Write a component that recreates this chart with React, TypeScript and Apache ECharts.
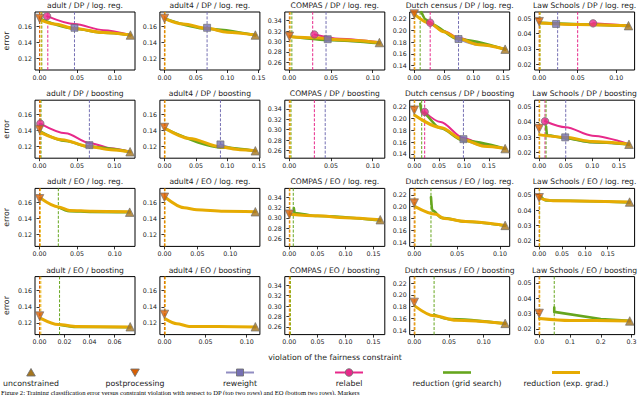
import React, { useEffect, useRef } from "react";
import * as echarts from "echarts";

// ---------------- data ----------------
const datasets = ["adult", "adult4", "COMPAS", "Dutch census", "Law Schools"];
const rowNames = ["DP / log. reg.", "DP / boosting", "EO / log. reg.", "EO / boosting"];

// largest violation in each panel (the unconstrained model), panel order row by row
const xMax = [
  0.121, 0.145, 0.109, 0.154, 0.118,
  0.1215, 0.1445, 0.109, 0.183, 0.171,
  0.121, 0.138, 0.162, 0.106, 0.199,
  0.0727, 0.1106, 0.162, 0.131, 0.295,
];

const xTicks = [
  [0, 0.05, 0.1], [0, 0.05, 0.1, 0.15], [0, 0.05, 0.1], [0, 0.05, 0.1, 0.15], [0, 0.05, 0.1],
  [0, 0.05, 0.1], [0, 0.05, 0.1, 0.15], [0, 0.05, 0.1], [0, 0.05, 0.1, 0.15], [0, 0.05, 0.1, 0.15],
  [0, 0.05, 0.1], [0, 0.05, 0.1], [0, 0.05, 0.1, 0.15], [0, 0.05, 0.1], [0, 0.05, 0.1, 0.15],
  [0, 0.02, 0.04, 0.06], [0, 0.05, 0.1], [0, 0.05, 0.1, 0.15], [0, 0.05, 0.1], [0, 0.1, 0.2, 0.3],
];
const xDecimals = [2, 2, 2, 2, 2, 2, 2, 2, 2, 2, 2, 2, 2, 2, 2, 2, 2, 2, 2, 1];

const yTicksByCol = [
  [0.12, 0.14, 0.16],
  [0.12, 0.14, 0.16],
  [0.26, 0.28, 0.3, 0.32, 0.34],
  [0.14, 0.16, 0.18, 0.2, 0.22],
  [0.02, 0.03, 0.04, 0.05],
];
const yRangeByCol = [
  [0.1055, 0.1775],
  [0.1055, 0.1775],
  [0.2452, 0.3567],
  [0.1327, 0.231],
  [0.0163, 0.0541],
];

type Pt = [number, number];
const unconstrained: (Pt | null)[] = [
  [0.121, 0.1489], [0.145, 0.1489], [0.108, 0.298], [0.154, 0.168], [0.116, 0.0452],
  [0.121, 0.1135], [0.1445, 0.1147], null, [0.183, 0.149], [0.169, 0.0254],
  [0.12, 0.148], [0.138, 0.1485], [0.162, 0.2965], [0.106, 0.1683], [0.198, 0.0452],
  [0.0725, 0.1152], [0.1106, 0.1152], null, [0.131, 0.1517], [0.294, 0.0252],
];
const postprocessing: (Pt | null)[] = [
  [0, 0.1695], [0, 0.1695], [0, 0.31], [0, 0.2276], [0, 0.0478],
  [0, 0.1411], [0, 0.1436], null, [0, 0.2141], [0, 0.0356],
  [0, 0.1646], [0, 0.1665], [0, 0.3071], [0, 0.2061], [0, 0.048],
  [0, 0.1285], [0, 0.1306], null, [0, 0.1873], [0, 0.0301],
];
const reweight: (Pt[] | null)[] = [
  [[0.0465, 0.1579], [0.085, 0.1525], [0.121, 0.1489]],
  [[0.068, 0.1579], [0.1, 0.1527], [0.145, 0.1489]],
  [[0.046, 0.3044], [0.08, 0.3005], [0.108, 0.298]],
  [[0.075, 0.1852], [0.11, 0.175], [0.154, 0.168]],
  [[0.022, 0.0463], [0.07, 0.0458], [0.116, 0.0452]],
  [[0.0666, 0.1217], [0.09, 0.1168], [0.121, 0.1135]],
  [[0.089, 0.1226], [0.115, 0.1172], [0.1445, 0.1147]],
  null,
  [[0.099, 0.165], [0.14, 0.1535], [0.183, 0.149]],
  [[0.049, 0.0299], [0.1, 0.0266], [0.169, 0.0254]],
  null, null, null, null, null,
  null, null, null, null, null,
];
const relabel: (Pt[] | null)[] = [
  [[0.01, 0.1723], [0.0465, 0.1625], [0.085, 0.155], [0.121, 0.1489]],
  null,
  [[0.03, 0.3135], [0.06, 0.3055], [0.108, 0.2985]],
  [[0.027, 0.2129], [0.05, 0.199], [0.075, 0.1875], [0.11, 0.1765], [0.154, 0.168]],
  [[0.07, 0.0467], [0.116, 0.0453]],
  [[0.001, 0.1485], [0.035, 0.1365], [0.0666, 0.1245], [0.095, 0.118], [0.121, 0.1135]],
  null,
  null,
  [[0.021, 0.2112], [0.053, 0.194], [0.099, 0.167], [0.14, 0.155], [0.183, 0.149]],
  [[0.011, 0.0404], [0.05, 0.0365], [0.1, 0.031], [0.169, 0.0254]],
  null, null, null, null, null,
  null, null, null, null, null,
];
const gridSearch: (Pt[] | null)[] = [
  [[0.003, 0.1683], [0.0465, 0.1567], [0.085, 0.1517], [0.121, 0.1488]],
  [[0.002, 0.1688], [0.068, 0.1568], [0.145, 0.1488]],
  [[0.003, 0.309], [0.05, 0.3025], [0.108, 0.2965]],
  [[0.012, 0.231], [0.02, 0.218], [0.027, 0.2112], [0.075, 0.1848], [0.154, 0.1675]],
  [[0.001, 0.047], [0.116, 0.045]],
  [[0.002, 0.1383], [0.035, 0.1268], [0.0666, 0.1195], [0.121, 0.1133]],
  [[0.001, 0.1422], [0.089, 0.119], [0.1445, 0.1145]],
  null,
  [[0.012, 0.225], [0.015, 0.2105], [0.053, 0.1835], [0.099, 0.1625], [0.183, 0.1488]],
  [[0.013, 0.037], [0.015, 0.0312], [0.049, 0.0294], [0.1, 0.0267], [0.169, 0.0253]],
  [[0.025, 0.1543], [0.04, 0.1493], [0.07, 0.1483], [0.12, 0.1478]],
  null,
  [[0.008, 0.3187], [0.0095, 0.3095], [0.05, 0.3035], [0.162, 0.295]],
  [[0.0195, 0.2163], [0.021, 0.1937], [0.032, 0.181], [0.06, 0.1745], [0.106, 0.1678]],
  [[0.003, 0.049], [0.015, 0.0462], [0.198, 0.045]],
  [[0.016, 0.1178], [0.03, 0.115], [0.0725, 0.1147]],
  null,
  null,
  [[0.0286, 0.1665], [0.05, 0.159], [0.131, 0.1515]],
  [[0.049, 0.034], [0.049, 0.0311], [0.2, 0.0265], [0.294, 0.0253]],
];
const expGrad: (Pt[] | null)[] = [
  [[0.002, 0.1674], [0.02, 0.1625], [0.0465, 0.157], [0.085, 0.152], [0.121, 0.1489]],
  [[0.001, 0.169], [0.03, 0.1625], [0.068, 0.1572], [0.1, 0.1525], [0.145, 0.1489]],
  [[0.001, 0.309], [0.03, 0.307], [0.06, 0.3035], [0.108, 0.298]],
  [[0.001, 0.2265], [0.027, 0.2115], [0.05, 0.1975], [0.075, 0.1855], [0.11, 0.1755], [0.154, 0.168]],
  [[0.001, 0.047], [0.05, 0.046], [0.116, 0.0452]],
  [[0.001, 0.1375], [0.03, 0.1285], [0.0666, 0.12], [0.095, 0.116], [0.121, 0.1135]],
  [[0.001, 0.1425], [0.04, 0.13], [0.089, 0.1195], [0.12, 0.116], [0.1445, 0.1147]],
  null,
  [[0.001, 0.2056], [0.053, 0.1847], [0.099, 0.164], [0.14, 0.153], [0.183, 0.149]],
  [[0.001, 0.0315], [0.049, 0.0299], [0.1, 0.0272], [0.169, 0.0254]],
  [[0.001, 0.1655], [0.025, 0.1545], [0.04, 0.1502], [0.07, 0.1492], [0.12, 0.1485]],
  [[0.001, 0.1665], [0.03, 0.1535], [0.049, 0.151], [0.09, 0.149], [0.138, 0.1485]],
  [[0.001, 0.307], [0.05, 0.304], [0.1, 0.3005], [0.162, 0.2965]],
  [[0.001, 0.2], [0.025, 0.187], [0.035, 0.18], [0.06, 0.175], [0.106, 0.1683]],
  [[0.001, 0.0485], [0.01, 0.0468], [0.03, 0.0461], [0.198, 0.0452]],
  [[0.001, 0.1257], [0.015, 0.118], [0.03, 0.1155], [0.0725, 0.115]],
  [[0.001, 0.125], [0.015, 0.119], [0.03, 0.1157], [0.1106, 0.115]],
  null,
  [[0.001, 0.181], [0.0286, 0.1645], [0.06, 0.157], [0.131, 0.1517]],
  [[0.001, 0.0268], [0.1, 0.0255], [0.294, 0.0252]],
];

// vertical dashed lines (test violation of the chosen models)
const vPost: (number | null)[] = [0, 0, 0, 0, 0, 0, 0, 0, 0, 0, 0, 0, 0, 0, 0, 0, 0, 0, 0, 0];
const vExp: (number | null)[] = [
  0.002, 0.001, 0.001, 0.001, 0.001, 0.001, 0.001, 0.001, 0.001, 0.001,
  0.001, 0.001, 0.001, 0.001, 0.001, 0.001, 0.001, 0.001, 0.001, 0.002,
];
const vGrid: (number | null)[] = [
  0.003, null, 0.003, 0.01, 0.001, 0.002, null, 0.002, 0.015, 0.013,
  0.025, null, 0.007, 0.0195, 0.001, 0.016, null, 0.002, 0.0286, 0.049,
];
const vRelabel: (number | null)[] = [
  0.011, null, 0.028, 0.027, 0.05, 0.001, null, 0.03, 0.021, 0.011,
  null, null, null, null, null, null, null, null, null, null,
];
const vReweight: (number | null)[] = [
  0.0465, 0.068, 0.044, 0.075, 0.024, 0.0666, 0.089, 0.043, 0.099, 0.05,
  null, null, null, null, null, null, null, null, null, null,
];

const legendLabels = [
  "unconstrained",
  "postprocessing",
  "reweight",
  "relabel",
  "reduction (grid search)",
  "reduction (exp. grad.)",
];
const caption =
  "Figure 2: Training classification error versus constraint violation with respect to DP (top two rows) and EO (bottom two rows). Markers";

// ---------------- styling / layout ----------------
const FONT = "DejaVu Sans";
const COL = {
  unc: "#a6761d",
  post: "#d95f02",
  rew: "#7570b3",
  rel: "#e7298a",
  grid: "#66a61e",
  exp: "#e6ab02",
};
const colLeft = [35, 159.9, 284.8, 409.7, 534.6];
const rowTop = [12, 100.2, 188.4, 276.6];
const PW = 100;
const PH = 58;
const EDGE = "rgba(110,110,110,0.85)";

function isIncreasing(pts: Pt[]) {
  for (let i = 1; i < pts.length; i++) if (pts[i][0] <= pts[i - 1][0]) return false;
  return true;
}

function buildOption() {
  const grid: any[] = [];
  const xAxis: any[] = [];
  const yAxis: any[] = [];
  const series: any[] = [];
  const graphic: any[] = [];

  for (let p = 0; p < 20; p++) {
    const row = Math.floor(p / 5);
    const col = p % 5;
    const [yMin, yMax] = yRangeByCol[col];
    grid.push({
      left: colLeft[col],
      top: rowTop[row],
      width: PW,
      height: PH,
      show: true,
      borderColor: "#000",
      borderWidth: 1,
      backgroundColor: "transparent",
      containLabel: false,
    });
    const dec = xDecimals[p];
    xAxis.push({
      type: "value",
      gridIndex: p,
      min: -0.05 * xMax[p],
      max: 1.05 * xMax[p],
      axisLine: { show: false },
      splitLine: { show: false },
      axisTick: {
        show: true,
        length: 3,
        lineStyle: { color: "#000", width: 0.8 },
        customValues: xTicks[p],
      },
      axisLabel: {
        fontSize: 6.3,
        color: "#222",
        fontFamily: FONT,
        margin: 4,
        customValues: xTicks[p],
        formatter: (v: number) => v.toFixed(dec),
      },
    });
    yAxis.push({
      type: "value",
      gridIndex: p,
      min: yMin,
      max: yMax,
      axisLine: { show: false },
      splitLine: { show: false },
      axisTick: {
        show: true,
        length: 3,
        lineStyle: { color: "#000", width: 0.8 },
        customValues: yTicksByCol[col],
      },
      axisLabel: {
        fontSize: 6.3,
        color: "#222",
        fontFamily: FONT,
        margin: 3,
        customValues: yTicksByCol[col],
        formatter: (v: number) => v.toFixed(2),
      },
      name: col === 0 ? "error" : "",
      nameLocation: "middle",
      nameGap: 25,
      nameTextStyle: { fontSize: 7.8, color: "#222", fontFamily: FONT },
    });

    // vertical dashed lines
    const vl: [(number | null)[], string][] = [
      [vReweight, COL.rew],
      [vRelabel, COL.rel],
      [vGrid, COL.grid],
      [vPost, COL.post],
      [vExp, COL.exp],
    ];
    vl.forEach(([arr, color]) => {
      const v = arr[p];
      if (v === null || v === undefined) return;
      series.push({
        type: "line",
        xAxisIndex: p,
        yAxisIndex: p,
        data: [
          [v, yMin],
          [v, yMax],
        ],
        symbol: "none",
        silent: true,
        z: 1,
        lineStyle: { color, width: 1, type: [3, 1.6] },
      });
    });

    // curves
    const curves: [(Pt[] | null)[], string, number, number][] = [
      [reweight, COL.rew, 2, 0.75],
      [relabel, COL.rel, 2, 1],
      [gridSearch, COL.grid, 2.6, 1],
      [expGrad, COL.exp, 3, 1],
    ];
    curves.forEach(([arr, color, width, opacity]) => {
      const pts = arr[p];
      if (!pts) return;
      const inc = isIncreasing(pts) && pts.length > 2;
      series.push({
        type: "line",
        xAxisIndex: p,
        yAxisIndex: p,
        data: pts,
        showSymbol: false,
        symbol: "none",
        silent: true,
        z: 2,
        smooth: inc ? 0.3 : false,
        smoothMonotone: inc ? "x" : undefined,
        lineStyle: { color, width, opacity, cap: "round", join: "round" },
      });
    });

    // markers
    const markers: [any, string, string, number, number][] = [
      [reweight[p] ? reweight[p]![0] : null, COL.rew, "rect", 7, 0],
      [relabel[p] ? relabel[p]![0] : null, COL.rel, "circle", 7.5, 0],
      [unconstrained[p], COL.unc, "triangle", 8.5, 0],
      [postprocessing[p], COL.post, "triangle", 8.5, 180],
    ];
    markers.forEach(([pt, color, symbol, size, rot]) => {
      if (!pt) return;
      series.push({
        type: "scatter",
        xAxisIndex: p,
        yAxisIndex: p,
        data: [pt],
        symbol,
        symbolSize: size,
        symbolRotate: rot,
        silent: true,
        z: 3,
        itemStyle: { color, borderColor: EDGE, borderWidth: 1 },
      });
    });

    // panel title
    graphic.push({
      type: "text",
      x: colLeft[col] + PW / 2,
      y: rowTop[row] - 6.5,
      silent: true,
      style: {
        text: `${datasets[col]} / ${rowNames[row]}`,
        fontSize: 7.6,
        fontFamily: FONT,
        fill: "#222",
        align: "center",
        verticalAlign: "middle",
        textAlign: "center",
        textVerticalAlign: "middle",
      },
    });
  }

  // x axis label
  graphic.push({
    type: "text",
    x: 335,
    y: 357.5,
    silent: true,
    style: {
      text: "violation of the fairness constraint",
      fontSize: 7.8,
      fontFamily: FONT,
      fill: "#222",
      align: "center",
      verticalAlign: "middle",
      textAlign: "center",
      textVerticalAlign: "middle",
    },
  });

  // legend (markers above labels)
  const lx = [31, 135, 240, 349, 457, 566];
  const ly = 372.5;
  graphic.push({
    type: "polygon",
    silent: true,
    shape: { points: [[lx[0] - 4.3, ly + 3.5], [lx[0] + 4.3, ly + 3.5], [lx[0], ly - 4]] },
    style: { fill: COL.unc, stroke: EDGE, lineWidth: 1 },
  });
  graphic.push({
    type: "polygon",
    silent: true,
    shape: { points: [[lx[1] - 4.3, ly - 3.5], [lx[1] + 4.3, ly - 3.5], [lx[1], ly + 4]] },
    style: { fill: COL.post, stroke: EDGE, lineWidth: 1 },
  });
  graphic.push({
    type: "line",
    silent: true,
    shape: { x1: lx[2] - 14, y1: ly, x2: lx[2] + 14, y2: ly },
    style: { stroke: COL.rew, lineWidth: 2, opacity: 0.8 },
  });
  graphic.push({
    type: "rect",
    silent: true,
    shape: { x: lx[2] - 3.5, y: ly - 3.5, width: 7, height: 7 },
    style: { fill: COL.rew, stroke: EDGE, lineWidth: 1 },
  });
  graphic.push({
    type: "line",
    silent: true,
    shape: { x1: lx[3] - 14, y1: ly, x2: lx[3] + 14, y2: ly },
    style: { stroke: COL.rel, lineWidth: 2 },
  });
  graphic.push({
    type: "circle",
    silent: true,
    shape: { cx: lx[3], cy: ly, r: 3.8 },
    style: { fill: COL.rel, stroke: EDGE, lineWidth: 1 },
  });
  graphic.push({
    type: "line",
    silent: true,
    shape: { x1: lx[4] - 14, y1: ly, x2: lx[4] + 14, y2: ly },
    style: { stroke: COL.grid, lineWidth: 2.6 },
  });
  graphic.push({
    type: "line",
    silent: true,
    shape: { x1: lx[5] - 14, y1: ly, x2: lx[5] + 14, y2: ly },
    style: { stroke: COL.exp, lineWidth: 3 },
  });
  legendLabels.forEach((t, i) => {
    graphic.push({
      type: "text",
      x: lx[i],
      y: 383.5,
      silent: true,
      style: {
        text: t,
        fontSize: 7.8,
        fontFamily: FONT,
        fill: "#222",
        align: "center",
        verticalAlign: "middle",
        textAlign: "center",
        textVerticalAlign: "middle",
      },
    });
  });

  // caption line at the bottom edge
  graphic.push({
    type: "text",
    x: 1,
    y: 388.6,
    silent: true,
    style: {
      text: caption,
      fontSize: 6.6,
      fontFamily: "Liberation Serif",
      fill: "#000",
      align: "left",
      verticalAlign: "top",
      textAlign: "left",
      textVerticalAlign: "top",
    },
  });

  return {
    animation: false,
    backgroundColor: "#fff",
    grid,
    xAxis,
    yAxis,
    series,
    graphic,
  };
}

export default function App() {
  const ref = useRef<HTMLDivElement>(null);
  useEffect(() => {
    if (!ref.current) return;
    const chart = echarts.init(ref.current, undefined, { renderer: "svg" });
    chart.setOption(buildOption() as any);
    return () => chart.dispose();
  }, []);
  return (
    <div
      ref={ref}
      style={{ position: "fixed", left: 0, top: 0, width: 640, height: 395, background: "#fff" }}
    />
  );
}
